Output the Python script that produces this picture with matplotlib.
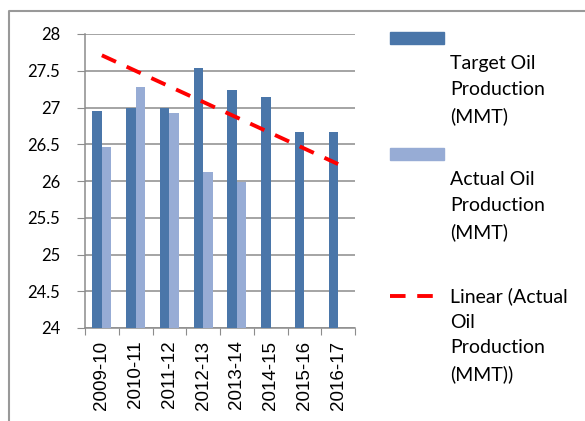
import matplotlib
matplotlib.use("Agg")
import matplotlib.pyplot as plt
from matplotlib.patches import Rectangle
from matplotlib.lines import Line2D
import numpy as np

categories = ["2009-10", "2010-11", "2011-12", "2012-13", "2013-14", "2014-15", "2015-16", "2016-17"]
target = [26.95, 27.0, 27.0, 27.54, 27.24, 27.14, 26.66, 26.67]
actual = [26.46, 27.28, 26.92, 26.125, 25.99, None, None, None]
trend_start = 27.71
trend_end = 26.23
y_ticks = [24, 24.5, 25, 25.5, 26, 26.5, 27, 27.5, 28]
y_tick_labels = ["24", "24.5", "25", "25.5", "26", "26.5", "27", "27.5", "28"]
legend_labels = ["Target Oil\nProduction\n(MMT)", "Actual Oil\nProduction\n(MMT)",
                 "Linear (Actual\nOil\nProduction\n(MMT))"]

c_target = "#4A76A9"
c_actual = "#97ACD5"
grid_c = "#8C8C8C"

W, H = 585, 421
fig = plt.figure(figsize=(W / 100, H / 100), dpi=100)
fig.patch.set_facecolor("white")

def fx(px):
    return px / W

def fy(py):
    return 1 - py / H

ax = fig.add_axes([fx(85), fy(328), fx(355) - fx(85), fy(34) - fy(328)])

x = np.arange(1, len(categories) + 1)
bw = 0.28
ax.bar(x - bw / 2, target, width=bw, bottom=0, color=c_target, zorder=3)
ax_x = [xi + bw / 2 for xi, v in zip(x, actual) if v is not None]
ax_v = [v for v in actual if v is not None]
ax.bar(ax_x, ax_v, width=bw, color=c_actual, zorder=3)

ax.plot([x[0], x[-1]], [trend_start, trend_end], color="#FF0000", lw=2.8,
        dashes=(4, 3), zorder=4, solid_capstyle="butt")

ax.set_xlim(0.5, len(categories) + 0.5)
ax.set_ylim(24, 28)
ax.set_yticks(y_ticks)
ax.set_yticklabels(y_tick_labels, fontsize=12, family="Lato")
ax.yaxis.grid(True, color=grid_c, lw=1.1, zorder=0)
ax.set_axisbelow(True)

ax.set_xticks(np.arange(0.5, len(categories) + 1, 1.0))
ax.set_xticklabels([])
ax.set_xticks(x, minor=True)
ax.set_xticklabels(categories, minor=True, rotation=90, fontsize=13.5,
                   family="Liberation Sans")
ax.tick_params(axis="x", which="minor", length=0, pad=9)
ax.tick_params(axis="x", which="major", length=5, color=grid_c, direction="out")
ax.tick_params(axis="y", length=6, color=grid_c, direction="out", pad=12)

for s in ["top", "right"]:
    ax.spines[s].set_visible(False)
for s in ["left", "bottom"]:
    ax.spines[s].set_color(grid_c)
    ax.spines[s].set_linewidth(1.1)

# legend drawn manually
fig.patches.append(Rectangle((fx(390), fy(44)), fx(444) - fx(390), fy(32) - fy(44),
                             transform=fig.transFigure, color=c_target))
fig.patches.append(Rectangle((fx(390), fy(160)), fx(444) - fx(390), fy(148) - fy(160),
                             transform=fig.transFigure, color=c_actual))
fig.lines.append(Line2D([fx(390), fx(444)], [fy(296), fy(296)], transform=fig.transFigure,
                        color="#FF0000", lw=2.8, dashes=(4, 3)))
lkw = dict(fontsize=14, family="Lato", va="top", ha="left", linespacing=1.62)
fig.text(fx(450), fy(55), legend_labels[0], **lkw)
fig.text(fx(450), fy(171), legend_labels[1], **lkw)
fig.text(fx(450), fy(287), legend_labels[2], **lkw)

# chart border
fig.lines.append(Line2D([fx(8.5), fx(8.5), fx(586)], [fy(421), fy(10.5), fy(10.5)],
                        transform=fig.transFigure, color="#999999", lw=1.5))

fig.savefig("out.png", dpi=100, facecolor="white")
